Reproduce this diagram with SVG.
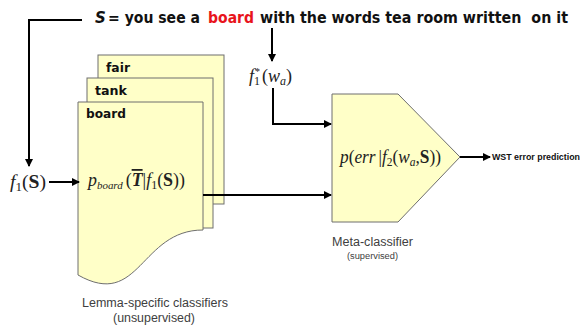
<svg xmlns="http://www.w3.org/2000/svg" width="585" height="325" viewBox="0 0 585 325">
<style>
.page{fill:#FFFFC8;stroke:#6E6E6E;stroke-width:1}
.lbl{font-family:"DejaVu Sans",sans-serif;font-weight:bold;font-size:13px;fill:#111}
.math{font-family:"Liberation Serif","DejaVu Serif",serif;font-size:18px;fill:#222}
.cap{font-family:"Liberation Sans",Arial,sans-serif;fill:#404040}
.conn{fill:none;stroke:#000;stroke-width:2}
.title{font-family:"DejaVu Sans",sans-serif;font-weight:bold;font-size:15px;fill:#111}
</style>
<defs>
<marker id="ah" markerWidth="8" markerHeight="8" refX="7" refY="4" orient="auto" markerUnits="userSpaceOnUse">
<path d="M0,0 L8,4 L0,8 Z" fill="#000"/>
</marker>
</defs>

<g id="title">
<text class="title" x="95" y="23" font-style="italic">S</text>
<text class="title" x="108" y="23" textLength="92" lengthAdjust="spacingAndGlyphs">= you see a</text>
<text class="title" x="208" y="23" style="fill:#E8141C" textLength="46" lengthAdjust="spacingAndGlyphs">board</text>
<text class="title" x="260" y="23" textLength="308" lengthAdjust="spacingAndGlyphs" xml:space="preserve">with the words tea room written  on it</text>
</g>

<g id="lemma-classifiers">
<rect class="page" x="98" y="55" width="126" height="149"/>
<text class="lbl" x="106" y="72" textLength="24" lengthAdjust="spacingAndGlyphs">fair</text>
<rect class="page" x="87" y="78" width="126" height="150"/>
<text class="lbl" x="95" y="95" textLength="32" lengthAdjust="spacingAndGlyphs">tank</text>
<path class="page" d="M78,102 H203 V230 C140,230 140,310 78,275 Z"/>
<text class="lbl" x="86" y="118" textLength="40" lengthAdjust="spacingAndGlyphs">board</text>
<text class="math" x="88" y="186" textLength="97" lengthAdjust="spacingAndGlyphs"><tspan font-style="italic">p</tspan><tspan font-style="italic" font-size="11" dy="3">board</tspan><tspan dy="-3" dx="3">(</tspan><tspan font-weight="bold" font-style="italic" text-decoration="overline">T</tspan><tspan>|</tspan><tspan font-style="italic">f</tspan><tspan font-size="12" dy="3">1</tspan><tspan dy="-3">(</tspan><tspan font-weight="bold">S</tspan><tspan>))</tspan></text>
<text class="cap" x="82" y="307" font-size="12.5" textLength="146" lengthAdjust="spacingAndGlyphs">Lemma-specific classifiers</text>
<text class="cap" x="113" y="322" font-size="12.5" textLength="82" lengthAdjust="spacingAndGlyphs">(unsupervised)</text>
</g>

<g id="meta-classifier">
<path class="page" d="M332,94 H398 L460,157 L398,222 H332 Z"/>
<text class="math" x="340" y="163" textLength="101" lengthAdjust="spacingAndGlyphs"><tspan font-style="italic">p</tspan><tspan>(</tspan><tspan font-style="italic">err</tspan><tspan dx="3">|</tspan><tspan font-style="italic">f</tspan><tspan font-size="12" dy="3">2</tspan><tspan dy="-3">(</tspan><tspan font-style="italic">w</tspan><tspan font-style="italic" font-size="12" dy="3">a</tspan><tspan dy="-3">,</tspan><tspan font-weight="bold">S</tspan><tspan>))</tspan></text>
<text class="cap" x="332" y="246" font-size="12" textLength="81" lengthAdjust="spacingAndGlyphs">Meta-classifier</text>
<text class="cap" x="347" y="259" font-size="8.5" textLength="51" lengthAdjust="spacingAndGlyphs">(supervised)</text>
</g>

<g id="f1-S">
<text class="math" x="10" y="188" textLength="36" lengthAdjust="spacingAndGlyphs"><tspan font-style="italic">f</tspan><tspan font-size="12" dy="3">1</tspan><tspan dy="-3">(</tspan><tspan font-weight="bold">S</tspan><tspan>)</tspan></text>
</g>

<g id="f1star-wa">
<text class="math" x="249" y="82"><tspan font-style="italic">f</tspan><tspan font-size="10" dy="-7" dx="1">*</tspan><tspan font-size="12" dx="-6" dy="10">1</tspan><tspan dy="-3" dx="2">(</tspan><tspan font-style="italic">w</tspan><tspan font-style="italic" font-size="12" dy="3">a</tspan><tspan dy="-3">)</tspan></text>
</g>

<g id="output">
<text x="492" y="160" font-family="'Liberation Sans',Arial,sans-serif" font-weight="bold" font-size="9" fill="#111" textLength="88" lengthAdjust="spacingAndGlyphs">WST error prediction</text>
</g>

<g id="connectors">
<polyline class="conn" points="82,20 29,20 29,166" marker-end="url(#ah)"/>
<line class="conn" x1="272" y1="28" x2="272" y2="61" marker-end="url(#ah)"/>
<line class="conn" x1="49" y1="182" x2="79" y2="182" marker-end="url(#ah)"/>
<polyline class="conn" points="273,88 273,124 331,124" marker-end="url(#ah)"/>
<line class="conn" x1="203" y1="195" x2="331" y2="195" marker-end="url(#ah)"/>
<line class="conn" x1="460" y1="157" x2="490" y2="157" marker-end="url(#ah)"/>
</g>
</svg>
